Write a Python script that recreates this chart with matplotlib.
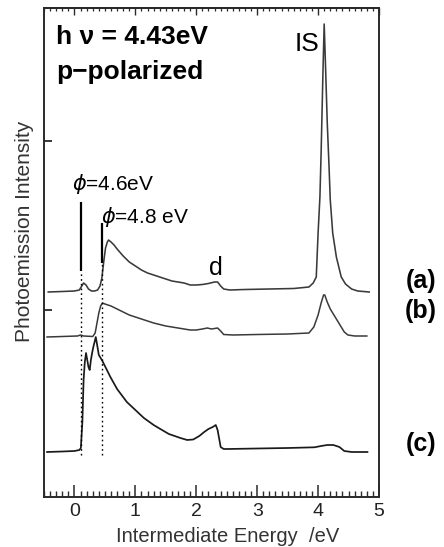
import matplotlib
matplotlib.use("Agg")
import matplotlib.pyplot as plt
from matplotlib.ticker import MultipleLocator

plt.rcParams['font.family'] = ['Liberation Sans', 'DejaVu Sans']
plt.rcParams['mathtext.fontset'] = 'dejavusans'

# ---------------- data ----------------
# spectrum (a): energy (eV) and intensity above its own baseline (arb. units)
a_x = [-0.43, -0.2, 0.0, 0.08, 0.12, 0.15, 0.19, 0.23, 0.28, 0.33, 0.38, 0.42,
       0.45, 0.48, 0.51, 0.54, 0.56, 0.60, 0.65, 0.70, 0.80, 0.90, 1.0, 1.1,
       1.2, 1.3, 1.4, 1.5, 1.6, 1.7, 1.8, 1.9, 2.0, 2.1, 2.2, 2.3, 2.35, 2.4,
       2.45, 2.55, 2.8, 3.2, 3.6, 3.85, 3.92, 3.97, 4.00, 4.03, 4.05, 4.08,
       4.10, 4.12, 4.15, 4.18, 4.20, 4.24, 4.30, 4.38, 4.45, 4.55, 4.65, 4.84]
a_y = [0.00, 0.005, 0.01, 0.02, 0.06, 0.09, 0.07, 0.03, 0.01, 0.01, 0.02, 0.06,
       0.14, 0.30, 0.44, 0.50, 0.52, 0.50, 0.47, 0.43, 0.36, 0.30, 0.26, 0.22,
       0.19, 0.17, 0.15, 0.13, 0.11, 0.10, 0.09, 0.07, 0.07, 0.075, 0.085, 0.10,
       0.10, 0.06, 0.03, 0.02, 0.025, 0.03, 0.035, 0.05, 0.09, 0.15, 0.59, 0.95,
       1.40, 2.20, 2.68, 2.30, 1.70, 1.25, 0.92, 0.59, 0.35, 0.15, 0.08, 0.03,
       0.01, 0.00]

# spectrum (b)
b_x = [-0.45, -0.2, 0.05, 0.10, 0.15, 0.30, 0.34, 0.37, 0.40, 0.43, 0.46, 0.50,
       0.55, 0.60, 0.70, 0.80, 0.90, 1.0, 1.1, 1.2, 1.3, 1.4, 1.5, 1.6, 1.7,
       1.8, 1.9, 2.0, 2.1, 2.18, 2.25, 2.3, 2.35, 2.4, 2.45, 2.6, 3.0, 3.5,
       3.85, 3.93, 4.0, 4.05, 4.09, 4.11, 4.15, 4.2, 4.28, 4.35, 4.43, 4.49,
       4.6, 4.8]
b_y = [0.00, 0.005, 0.01, 0.02, 0.01, 0.005, 0.04, 0.14, 0.24, 0.31, 0.34, 0.33,
       0.32, 0.31, 0.28, 0.25, 0.22, 0.20, 0.18, 0.16, 0.14, 0.125, 0.11, 0.10,
       0.09, 0.08, 0.07, 0.07, 0.08, 0.09, 0.08, 0.085, 0.09, 0.06, 0.025, 0.02,
       0.025, 0.03, 0.04, 0.10, 0.22, 0.34, 0.42, 0.42, 0.35, 0.28, 0.20, 0.13,
       0.05, 0.02, 0.01, 0.01]

# spectrum (c)
c_x = [-0.45, -0.2, 0.0, 0.08, 0.105, 0.13, 0.15, 0.17, 0.19, 0.21, 0.23, 0.25,
       0.27, 0.29, 0.31, 0.33, 0.35, 0.37, 0.40, 0.45, 0.50, 0.59, 0.70, 0.86,
       1.0, 1.14, 1.3, 1.41, 1.55, 1.74, 1.85, 1.95, 2.05, 2.13, 2.2, 2.27,
       2.32, 2.35, 2.38, 2.40, 2.45, 2.51, 3.0, 3.5, 3.94, 4.05, 4.15, 4.25,
       4.35, 4.43, 4.55, 4.81]
c_y = [0.00, 0.005, 0.01, 0.02, 0.04, 0.30, 0.72, 0.90, 0.99, 0.92, 0.85, 0.82,
       0.92, 0.99, 1.05, 1.10, 1.15, 1.08, 0.97, 0.92, 0.86, 0.75, 0.63, 0.50,
       0.42, 0.34, 0.27, 0.23, 0.18, 0.14, 0.12, 0.125, 0.16, 0.20, 0.23, 0.25,
       0.27, 0.22, 0.12, 0.05, 0.03, 0.03, 0.035, 0.04, 0.047, 0.06, 0.07, 0.07,
       0.05, 0.01, 0.00, 0.00]

offsets = {"a": 1.60, "b": 1.15, "c": 0.0}
curve_labels = ["(a)", "(b)", "(c)"]

# work-function onset markers (eV)
phi_x = [0.105, 0.445]
phi_labels = [r"$\phi$=4.6eV", r"$\phi$=4.8 eV"]

x_ticks = [0, 1, 2, 3, 4, 5]

# ---------------- figure ----------------
W, H = 444, 547
fig = plt.figure(figsize=(W / 100, H / 100), dpi=100)
ax = fig.add_axes([44 / W, 1 - 497 / H, (379 - 44) / W, (497 - 8) / H])

ink = "#2a2a2a"
ax.plot(a_x, [v + offsets["a"] for v in a_y], color="#3a3a3a", lw=1.15)
ax.plot(b_x, [v + offsets["b"] for v in b_y], color="#3a3a3a", lw=1.1)
ax.plot(c_x, [v + offsets["c"] for v in c_y], color="#1a1a1a", lw=1.25)

# marker lines: solid part then dotted part down to (c)
ax.vlines(phi_x[0], 1.813, 2.503, color="black", lw=1.6)
ax.vlines(phi_x[1], 1.887, 2.293, color="black", lw=1.6)
ax.vlines(phi_x[0], -0.03, 1.813, color="black", lw=1.0, linestyles=(0, (1.2, 2.2)))
ax.vlines(phi_x[1], -0.03, 1.887, color="black", lw=1.0, linestyles=(0, (1.2, 2.2)))

ax.set_xlim(-0.5, 5.0)
ax.set_ylim(-0.45, 4.44)
ax.set_xticks(x_ticks)
ax.xaxis.set_minor_locator(MultipleLocator(0.1))
ax.tick_params(axis="x", which="major", direction="in", length=8.6, width=1.1,
               color=ink, labelsize=14, pad=4, labelcolor="#222222")
ax.tick_params(axis="x", which="minor", direction="in", length=4.3, width=1.0, color=ink)
ax.set_yticks([1.42, 3.11])
ax.tick_params(axis="y", which="major", direction="in", length=6, width=1.3,
               color=ink, labelleft=False)

top = ax.secondary_xaxis("top")
top.set_xticks(x_ticks)
top.xaxis.set_minor_locator(MultipleLocator(0.1))
top.tick_params(axis="x", which="major", direction="in", length=5, width=1.0,
                color=ink, labeltop=False)
top.tick_params(axis="x", which="minor", direction="in", length=2.5, width=0.9, color=ink)
top.spines["top"].set_linewidth(1.4)
top.spines["top"].set_color(ink)

for s in ax.spines.values():
    s.set_linewidth(1.4)
    s.set_color(ink)

ax.set_xlabel("Intermediate Energy  /eV", fontsize=14.5, color="#333333")
ax.xaxis.set_label_coords((228 - 44) / (379 - 44), -(536 - 497) / (497 - 8))
ax.xaxis.label.set_va("center")
ax.set_ylabel("Photoemission Intensity", fontsize=15, color="#333333")
ax.yaxis.set_label_coords(-(44 - 24) / (379 - 44), (497 - 231) / (497 - 8))
ax.yaxis.label.set_va("center")

def fx(px):
    return px / W

def fy(py):
    return 1 - py / H

fig.text(fx(56), fy(37), "h ν = 4.43eV", fontsize=19, fontweight="bold",
         ha="left", va="center", color="black")
fig.text(fx(56), fy(72), "p−polarized", fontsize=19, fontweight="bold",
         ha="left", va="center", color="black")
fig.text(fx(307), fy(44), "IS", fontsize=19, ha="center", va="center", color="black")
fig.text(fx(216), fy(268), "d", fontsize=18, ha="center", va="center", color="black")
fig.text(fx(72), fy(184), phi_labels[0], fontsize=15, ha="left", va="center", color="black")
fig.text(fx(101), fy(217), phi_labels[1], fontsize=15, ha="left", va="center", color="black")

for lab, py in zip(curve_labels, [281, 311, 444]):
    fig.text(fx(421), fy(py), lab, fontsize=18, fontweight="bold",
             ha="center", va="center", color="black")

fig.savefig("out.png", dpi=100)
